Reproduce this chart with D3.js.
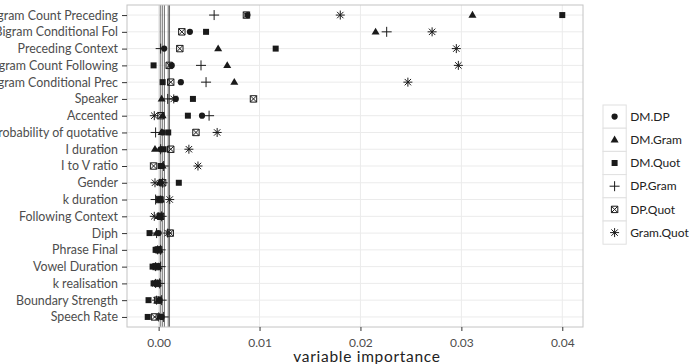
<!DOCTYPE html>
<html>
<head>
<meta charset="utf-8">
<script src="https://cdn.jsdelivr.net/npm/d3@7"></script>
<style>
    body { margin: 0; background: #fff; }
    svg { display: block; font-family: Lato, "Open Sans", sans-serif; }
</style>
</head>
<body>
<svg id="chart" width="689" height="364"></svg>
<script>
// rows, top to bottom
const variables = [
    "Bigram Count Preceding", "Bigram Conditional Fol", "Preceding Context",
    "Bigram Count Following", "Bigram Conditional Prec", "Speaker", "Accented",
    "Probability of quotative", "I duration", "I to V ratio", "Gender",
    "k duration", "Following Context", "Diph", "Phrase Final", "Vowel Duration",
    "k realisation", "Boundary Strength", "Speech Rate"
];

const methods = ["DM.DP", "DM.Gram", "DM.Quot", "DP.Gram", "DP.Quot", "Gram.Quot"];

// importance per method, same order as variables
const dmDp = [0.0088, 0.0031, 0.00055, 0.0013, 0.0022, 0.0017, 0.0043, 0.0004, 0.0002, 0.0003,
    0.0002, 0.0001, 0.0001, 0.0000, 0.0000, -0.0001, -0.0001, 0.0001, 0.0003];
const dmGram = [0.0311, 0.0215, 0.0059, 0.0068, 0.0075, 0.0003, 0.0004, 0.0003, -0.00036, 0.0004,
    0.0001, 0.0002, 0.0000, -0.0002, 0.0001, 0.0000, -0.0001, 0.0000, 0.0001];
const dmQuot = [0.0400, 0.0047, 0.0116, -0.0005, 0.0004, 0.0034, 0.0029, 0.00095, 0.0005, 0.0002,
    0.0020, 0.0002, 0.0002, -0.0009, -0.0003, -0.0006, -0.0005, -0.0010, -0.00108];
const dpGram = [0.0055, 0.0226, 0.0002, 0.0042, 0.0047, 0.0009, 0.0050, -0.0003, 0.0002, 0.0005,
    0.0004, -0.0003, 0.0003, -0.0002, 0.0002, 0.0002, 0.0001, 0.0003, 0.0005];
const dpQuot = [0.0087, 0.0023, 0.0021, 0.00105, 0.0012, 0.0094, 0.00023, 0.0037, 0.0012, -0.0005,
    0.0004, 0.0001, 0.0002, 0.00115, 0.0000, -0.0002, -0.0001, -0.0001, -0.0004];
const gramQuot = [0.0180, 0.0271, 0.0295, 0.0297, 0.0247, 0.0015, -0.00043, 0.0058, 0.0030, 0.0039,
    -0.00036, 0.0011, -0.00043, 0.0009, -0.0001, -0.0003, -0.0003, -0.0002, 0.0000];

// vertical reference lines near zero
const cutoffs = [0.00016, 0.00036, 0.00057, 0.00095, 0.00108];

const xTicks = [0, 0.01, 0.02, 0.03, 0.04];

const seriesValues = [dmDp, dmGram, dmQuot, dpGram, dpQuot, gramQuot];

// panel box
const panelLeft = 127, panelRight = 583, panelTop = 5, panelBottom = 327;

const svg = d3.select("#chart");

const points = [];
seriesValues.forEach((vals, si) => {
    vals.forEach((v, vi) => points.push({ method: methods[si], variable: variables[vi], value: v }));
});

// ggplot style 5% expansion
const ext = d3.extent(points, d => d.value);
const pad = (ext[1] - ext[0]) * 0.05;
const x = d3.scaleLinear().domain([ext[0] - pad, ext[1] + pad]).range([panelLeft, panelRight]);
const y = d3.scalePoint().domain(variables).range([panelTop, panelBottom]).padding(0.6);

// marker paths, centred on 0,0
function markerPath(method) {
    switch (method) {
        case "DM.DP": return d3.symbol(d3.symbolCircle, 30)();
        case "DM.Gram": return "M0,-4.2L4,2.6L-4,2.6Z";
        case "DM.Quot": return "M-3,-3H3V3H-3Z";
        case "DP.Gram": return "M-5,0H5M0,-5V5";
        case "DP.Quot": return "M-3.2,-3.2H3.2V3.2H-3.2ZM-3.2,-3.2L3.2,3.2M-3.2,3.2L3.2,-3.2";
        case "Gram.Quot": return "M-4.5,0H4.5M0,-4.5V4.5M-3.2,-3.2L3.2,3.2M-3.2,3.2L3.2,-3.2";
    }
}
const filled = new Set(["DM.DP", "DM.Gram", "DM.Quot"]);

// panel background and grid
svg.append("rect")
    .attr("x", panelLeft).attr("y", panelTop)
    .attr("width", panelRight - panelLeft).attr("height", panelBottom - panelTop)
    .attr("fill", "#fff");

svg.append("g")
    .selectAll("line")
    .data(xTicks)
    .join("line")
    .attr("x1", d => x(d)).attr("x2", d => x(d))
    .attr("y1", panelTop).attr("y2", panelBottom)
    .attr("stroke", "#ebebeb")
    .attr("stroke-width", 1);

svg.append("g")
    .selectAll("line")
    .data(variables)
    .join("line")
    .attr("x1", panelLeft).attr("x2", panelRight)
    .attr("y1", d => y(d)).attr("y2", d => y(d))
    .attr("stroke", "#ebebeb")
    .attr("stroke-width", 1);

svg.append("g")
    .selectAll("line")
    .data(cutoffs)
    .join("line")
    .attr("x1", d => x(d)).attr("x2", d => x(d))
    .attr("y1", panelTop).attr("y2", panelBottom)
    .attr("stroke", "#444")
    .attr("stroke-width", 0.8);

// points
svg.append("g")
    .selectAll("path")
    .data(points)
    .join("path")
    .attr("transform", d => `translate(${x(d.value)},${y(d.variable)})`)
    .attr("d", d => markerPath(d.method))
    .attr("fill", d => filled.has(d.method) ? "#1a1a1a" : "none")
    .attr("stroke", d => filled.has(d.method) ? "none" : "#1a1a1a")
    .attr("stroke-width", 1);

// panel border
svg.append("rect")
    .attr("x", panelLeft).attr("y", panelTop)
    .attr("width", panelRight - panelLeft).attr("height", panelBottom - panelTop)
    .attr("fill", "none")
    .attr("stroke", "#c4c4c4")
    .attr("stroke-width", 1);

// axes
const yAxis = svg.append("g")
    .attr("transform", `translate(${panelLeft},0)`)
    .call(d3.axisLeft(y).tickSize(5).tickPadding(4));
const xAxis = svg.append("g")
    .attr("transform", `translate(0,${panelBottom})`)
    .call(d3.axisBottom(x).tickValues(xTicks).tickFormat(d3.format(".2f")).tickSize(4).tickPadding(7));
[yAxis, xAxis].forEach(ax => {
    ax.select(".domain").remove();
    ax.selectAll(".tick line").attr("stroke", "#333");
    ax.selectAll(".tick text")
        .attr("fill", "#4d4d4d")
        .style("font-family", "Lato, sans-serif")
        .style("font-size", "12px");
});
yAxis.selectAll(".tick text").style("font-size", "12.4px");

svg.append("text")
    .attr("x", 367)
    .attr("y", 362)
    .attr("text-anchor", "middle")
    .attr("font-size", 15.5)
    .attr("letter-spacing", 0.7)
    .attr("fill", "#222")
    .text("variable importance");

// legend
const keySize = 23.2;
const legend = svg.append("g")
    .attr("transform", "translate(603,105)");
const item = legend.selectAll("g")
    .data(methods)
    .join("g")
    .attr("transform", (_d, i) => `translate(0,${i * keySize})`);
item.append("rect")
    .attr("width", keySize).attr("height", keySize)
    .attr("fill", "#fff")
    .attr("stroke", "#e0e0e0");
item.append("path")
    .attr("transform", `translate(${keySize / 2},${keySize / 2})`)
    .attr("d", d => markerPath(d))
    .attr("fill", d => filled.has(d) ? "#1a1a1a" : "none")
    .attr("stroke", d => filled.has(d) ? "none" : "#1a1a1a")
    .attr("stroke-width", 1);
item.append("text")
    .attr("x", keySize + 4)
    .attr("y", keySize / 2)
    .attr("dy", "0.35em")
    .attr("font-size", 12)
    .attr("fill", "#222")
    .text(d => d);
</script>
</body>
</html>
